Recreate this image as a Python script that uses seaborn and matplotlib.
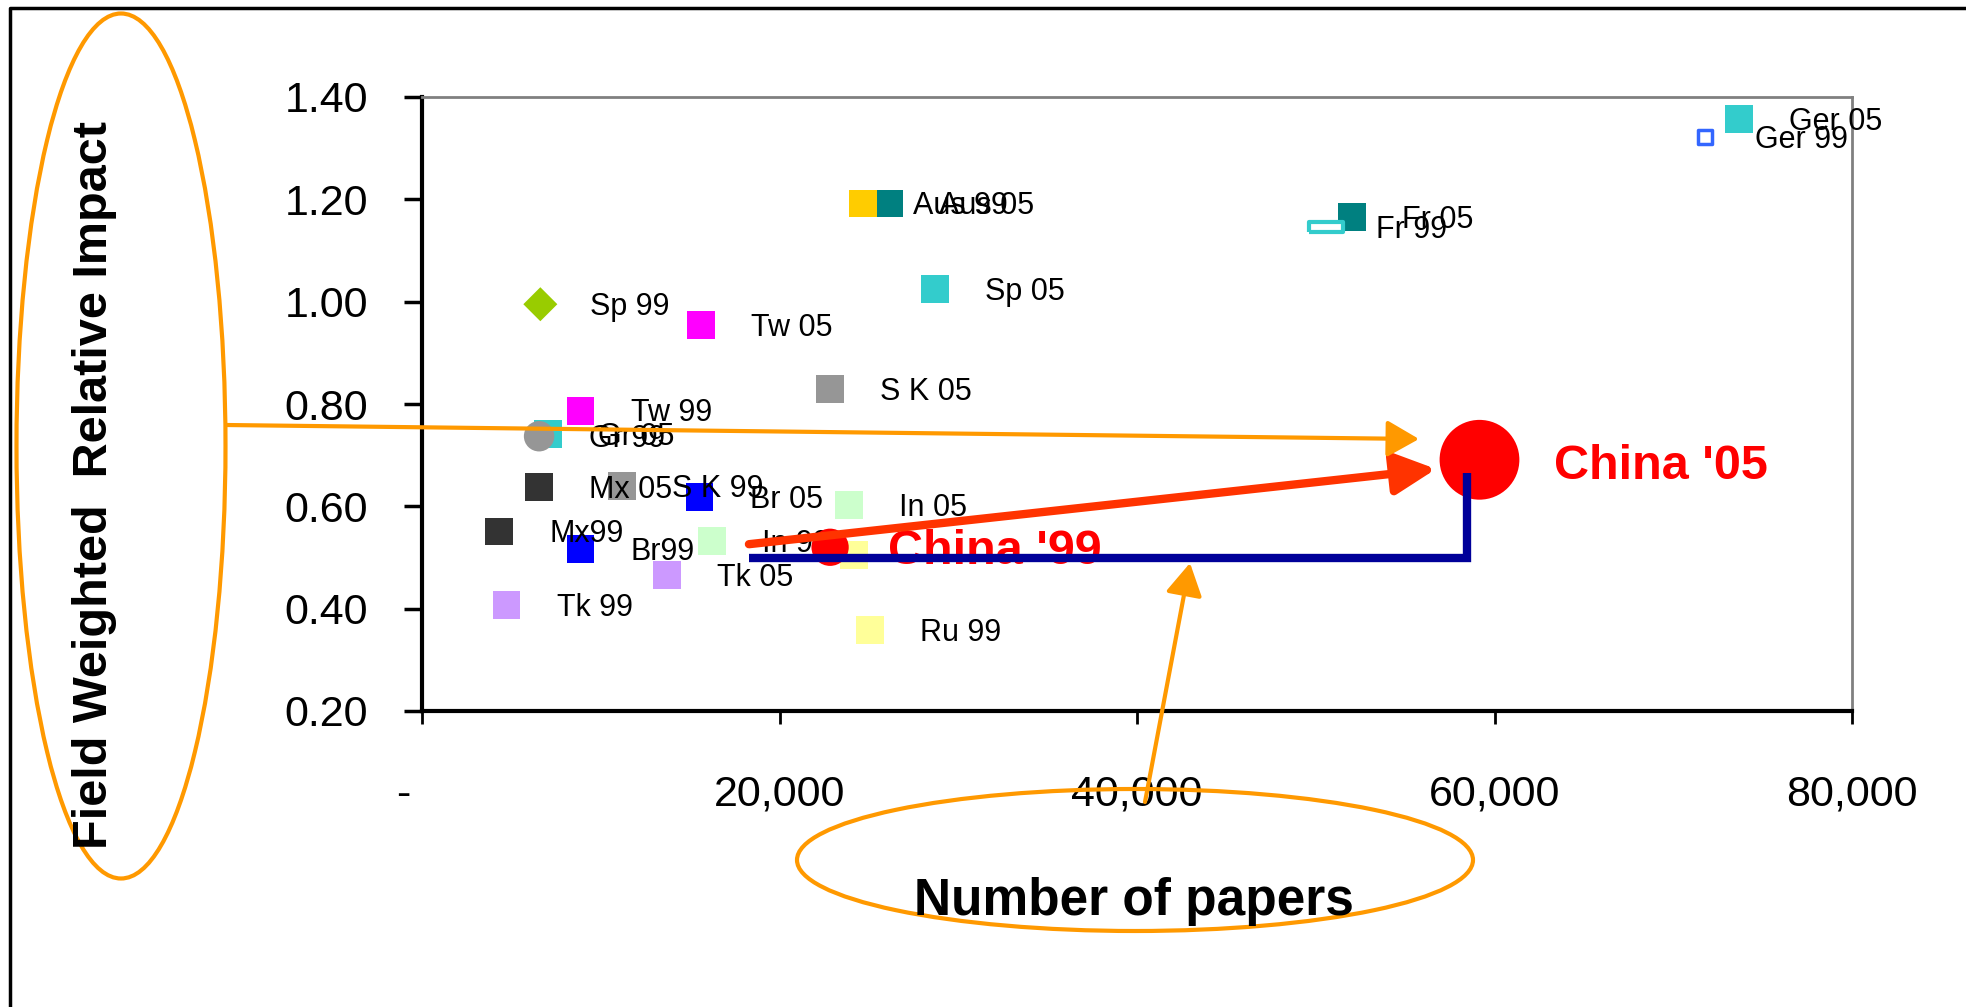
import numpy as np
import pandas as pd
import seaborn as sns
from matplotlib import pyplot as plt
from matplotlib.patches import Ellipse, FancyArrowPatch
from matplotlib.lines import Line2D
from matplotlib.path import Path

# values
labels = ['Ger 05', 'Aus 05', 'Aus 99', 'Fr 05', 'Sp 05', 'Sp 99', 'Tw 05', 'S K 05',
          'Gr 05', 'Gr 99', 'Tw 99', 'Mx 05', 'S K 99', 'Br 05', 'In 05', 'Mx99',
          'Br99', 'In 99', 'Ru 05', 'Tk 05', 'Tk 99', 'Ru 99']
papers = [73680, 26120, 24650, 52010, 28720, 6620, 15600, 22830,
          7040, 6550, 8870, 6550, 11180, 15530, 23880, 4310,
          8870, 16240, 24160, 13710, 4730, 25070]
impact = [1.357, 1.192, 1.192, 1.165, 1.025, 0.995, 0.954, 0.829,
          0.741, 0.737, 0.787, 0.638, 0.640, 0.618, 0.603, 0.551,
          0.517, 0.532, 0.505, 0.466, 0.407, 0.358]
# the Ru 05 label sits under the China '99 caption in the original
hidden_labels = ['Ru 05']

hollow_labels = ['Ger 99', 'Fr 99']
hollow_papers = [71790, 50600]
hollow_impact = [1.322, 1.146]

china_labels = ["China '99", "China '05"]
china_papers = [22830, 59160]
china_impact = [0.520, 0.691]

x_ticks = [0, 20000, 40000, 60000, 80000]
x_tick_labels = ['-   ', '20,000', '40,000', '60,000', '80,000']
y_ticks = [0.20, 0.40, 0.60, 0.80, 1.00, 1.20, 1.40]

colors = {'Ger 05': '#33CCCC', 'Aus 05': '#008080', 'Aus 99': '#FFCC00', 'Fr 05': '#008080',
          'Sp 05': '#33CCCC', 'Sp 99': '#99CC00', 'Tw 05': '#FF00FF', 'S K 05': '#969696',
          'Gr 05': '#33CCCC', 'Gr 99': '#969696', 'Tw 99': '#FF00FF', 'Mx 05': '#333333',
          'S K 99': '#969696', 'Br 05': '#0000FF', 'In 05': '#CCFFCC', 'Mx99': '#333333',
          'Br99': '#0000FF', 'In 99': '#CCFFCC', 'Ru 05': '#FFFF99', 'Tk 05': '#CC99FF',
          'Tk 99': '#CC99FF', 'Ru 99': '#FFFF99'}
markers = {l: 's' for l in labels}
markers['Sp 99'] = 'D'
markers['Gr 99'] = 'o'
sizes = {l: 400 for l in labels}
sizes['Sp 99'] = 300
sizes['Gr 99'] = 480
china_sizes = {"China '99": 720, "China '05": 3300}

sns.set_style('white')
plt.rcParams['font.family'] = ['Liberation Sans', 'DejaVu Sans']
plt.rcParams['text.color'] = 'black'
plt.rcParams['xtick.color'] = 'black'
plt.rcParams['ytick.color'] = 'black'
plt.rcParams['xtick.labelcolor'] = 'black'
plt.rcParams['ytick.labelcolor'] = 'black'

W, H = 1966, 1007
fig = plt.figure(figsize=(W / 100, H / 100), dpi=100)
ax = fig.add_axes([422 / W, 1 - 711 / H, (1852 - 422) / W, (711 - 97) / H])


def fx(px):
    return px / W


def fy(py):
    return 1 - py / H


df = pd.DataFrame({'label': labels, 'papers': papers, 'impact': impact})
sns.scatterplot(data=df, x='papers', y='impact', hue='label', palette=colors,
                style='label', markers=markers, size='label', sizes=sizes,
                linewidth=0, legend=False, ax=ax, zorder=3)

# hollow markers
sns.scatterplot(x=[hollow_papers[0]], y=[hollow_impact[0]], marker='s', s=90,
                color='white', edgecolor='#3366FF', linewidth=2.5, ax=ax, zorder=3)
rect = Path([(-1, -0.3), (1, -0.3), (1, 0.3), (-1, 0.3), (-1, -0.3)])
sns.scatterplot(x=[hollow_papers[1]], y=[hollow_impact[1]], marker=rect, s=620,
                color='white', edgecolor='#33CCCC', linewidth=3, ax=ax, zorder=3)

for l, xv, yv in zip(labels + hollow_labels, papers + hollow_papers, impact + hollow_impact):
    if l in hidden_labels:
        continue
    ax.annotate(l, (xv, yv), xytext=(36, -2), textcoords='offset points',
                fontsize=22, va='center', ha='left', color='black', zorder=4)

# China points
china_df = pd.DataFrame({'label': china_labels, 'papers': china_papers, 'impact': china_impact})
sns.scatterplot(data=china_df, x='papers', y='impact', size='label', sizes=china_sizes,
                color='#FF0000', linewidth=0, legend=False, ax=ax, zorder=5)
ax.annotate(china_labels[0], (china_papers[0], china_impact[0]), xytext=(42, -3),
            textcoords='offset points', fontsize=35, fontweight='bold', color='#FF0000',
            va='center', ha='left', zorder=5)
ax.annotate(china_labels[1], (china_papers[1], china_impact[1]), xytext=(54, -5),
            textcoords='offset points', fontsize=35, fontweight='bold', color='#FF0000',
            va='center', ha='left', zorder=5)

# navy bracket and red growth arrow
ax.plot([18290, 58460, 58460], [0.499, 0.499, 0.665], color='#000099', lw=6,
        solid_joinstyle='miter', solid_capstyle='butt', zorder=6, clip_on=False)
ax.annotate('', xy=(56730, 0.673), xytext=(18290, 0.526),
            arrowprops=dict(arrowstyle='-|>,head_length=0.9,head_width=0.45', color='#FF3300',
                            lw=6, shrinkA=0, shrinkB=0, mutation_scale=28), zorder=7)

ax.set_xlim(0, 80000)
ax.set_ylim(0.2, 1.4)
ax.set_xticks(x_ticks)
ax.set_xticklabels(x_tick_labels)
ax.set_yticks(y_ticks)
ax.set_yticklabels([f'{v:.2f}' for v in y_ticks])
ax.tick_params(axis='y', direction='out', length=13, width=2.5, pad=26, labelsize=31,
               left=True, color='black', labelcolor='black')
ax.tick_params(axis='x', direction='out', length=9, width=2, pad=37, labelsize=31,
               bottom=True, color='black', labelcolor='black')
ax.set_xlabel('')
ax.set_ylabel('')
for side in ['left', 'bottom']:
    ax.spines[side].set_color('black')
    ax.spines[side].set_linewidth(3)
for side in ['top', 'right']:
    ax.spines[side].set_color('#808080')
    ax.spines[side].set_linewidth(2)

# axis titles
fig.text(fx(95), fy(485), 'Field Weighted  Relative Impact', rotation=90, fontsize=35,
         fontweight='bold', ha='center', va='center', color='black')
fig.text(fx(1134), fy(915), 'Number of papers', fontsize=37, fontweight='bold',
         ha='center', va='baseline', color='black')

# orange call-outs
orange = '#FF9900'
fig.add_artist(Ellipse((fx(121), fy(446)), 209 / W, 865 / H, fill=False,
                       edgecolor=orange, lw=3, transform=fig.transFigure))
fig.add_artist(Ellipse((fx(1135), fy(860)), 676 / W, 142 / H, fill=False,
                       edgecolor=orange, lw=3, transform=fig.transFigure))
fig.add_artist(FancyArrowPatch((fx(226), fy(425)), (fx(1419), fy(439)),
                               arrowstyle='-|>,head_length=0.7,head_width=0.4',
                               mutation_scale=28, color=orange, lw=3,
                               shrinkA=0, shrinkB=0, transform=fig.transFigure))
fig.add_artist(FancyArrowPatch((fx(1145), fy(802)), (fx(1190), fy(563)),
                               arrowstyle='-|>,head_length=0.7,head_width=0.4',
                               mutation_scale=28, color=orange, lw=3,
                               shrinkA=0, shrinkB=0, transform=fig.transFigure))

# outer frame
fig.add_artist(Line2D([fx(10), fx(10), fx(W)], [0, fy(8), fy(8)], color='black', lw=2.5,
                      transform=fig.transFigure))

fig.savefig('out.png', dpi=100)
